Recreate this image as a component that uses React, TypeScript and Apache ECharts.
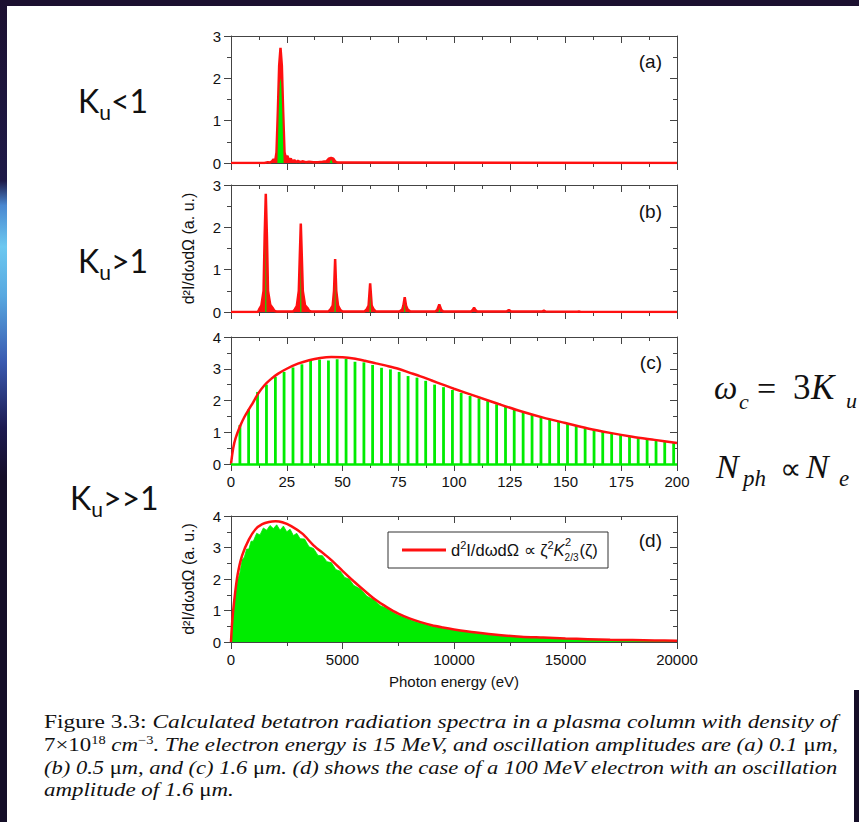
import React, { useEffect, useRef } from "react";
import * as echarts from "echarts";

const RED = "#ff1010";
const GREEN = "#00ec00";
const AXIS = "#444444";
const TXT = "#111111";

// ---------- Panel (a): K_u < 1 ----------
const redA: [number, number][] = [
  [0, 0], [15, 0], [16.5, 0.02], [17.5, 0.01], [18.4, 0.04], [19.1, 0.09], [19.8, 0.04],
  [20.4, 0.25], [21.0, 1.2], [21.6, 2.3], [22.2, 2.72], [22.8, 2.3], [23.4, 1.2], [24.0, 0.25],
  [24.6, 0.12], [25.3, 0.17], [26.0, 0.06], [26.8, 0.1], [27.6, 0.03], [28.4, 0.07], [29.2, 0.02],
  [30, 0.05], [31, 0.02], [32, 0.04], [33.5, 0.02], [35, 0.03], [37, 0.02], [39, 0.02], [41, 0.03],
  [42.8, 0.04], [43.8, 0.1], [44.9, 0.12], [45.9, 0.1], [46.8, 0.03], [48, 0.01], [200, 0],
];
const greenA: [number, number][] = [
  [0, 0], [20.8, 0], [21.4, 1.2], [21.9, 1.9], [22.2, 2.0], [22.5, 1.9], [23.0, 1.2], [23.6, 0],
  [44.2, 0], [44.9, 0.09], [45.6, 0], [200, 0],
];

// ---------- Panel (b): K_u > 1 ----------
const redB: [number, number][] = [
  [0, 0], [12.0, 0], [12.6, 0.06], [13.6, 0.15], [14.6, 0.5], [15.1, 1.8], [15.6, 2.79], [16.1, 1.8],
  [16.6, 0.5], [17.6, 0.17], [18.6, 0.1], [19.4, 0.03], [20.5, 0.01],
  [27.8, 0.01], [28.6, 0.06], [29.5, 0.14], [30.4, 0.5], [30.9, 1.4], [31.3, 2.09], [31.7, 1.4],
  [32.2, 0.5], [33.2, 0.16], [34.2, 0.1], [35.0, 0.03], [36, 0.01],
  [43.6, 0.01], [44.6, 0.06], [45.6, 0.15], [46.2, 0.5], [46.7, 1.25], [47.2, 0.5], [48, 0.15], [49, 0.05], [50, 0.01],
  [59.8, 0.01], [60.8, 0.06], [61.7, 0.15], [62.4, 0.68], [63.1, 0.15], [64, 0.06], [65, 0.01],
  [75.6, 0.01], [76.8, 0.06], [77.3, 0.15], [77.9, 0.35], [78.5, 0.15], [79.2, 0.06], [80.4, 0.01],
  [91.6, 0.01], [92.5, 0.05], [93.4, 0.18], [94.3, 0.05], [95.2, 0.01],
  [107.6, 0.01], [108.3, 0.04], [109, 0.1], [109.7, 0.04], [110.4, 0.01],
  [123.6, 0.01], [124.6, 0.05], [125.6, 0.01],
  [139.5, 0.01], [140.3, 0.03], [141.1, 0.01],
  [155.4, 0.005], [156, 0.015], [156.6, 0.005],
  [200, 0],
];
const greenB: [number, number][] = [
  [0, 0], [15.3, 0], [15.6, 1.75], [15.9, 0], [31.0, 0], [31.3, 1.2], [31.6, 0],
  [46.4, 0], [46.7, 0.7], [47.0, 0], [62.1, 0], [62.4, 0.4], [62.7, 0],
  [77.6, 0], [77.9, 0.2], [78.2, 0], [93.1, 0], [93.4, 0.1], [93.7, 0], [200, 0],
];

// ---------- Panel (c): K_u >> 1, harmonic comb ----------
const harmonicsC = [
  4.0, 7.9, 11.9, 15.9, 19.9, 23.8, 27.8, 31.8, 35.7, 39.7, 43.7, 47.6, 51.6, 55.6, 59.6, 63.5, 67.5,
  71.5, 75.4, 79.4, 83.4, 87.3, 91.3, 95.3, 99.3, 103.2, 107.2, 111.2, 115.1, 119.1, 123.1, 127.0,
  131.0, 135.0, 139.0, 142.9, 146.9, 150.9, 154.8, 158.8, 162.8, 166.7, 170.7, 174.7, 178.7, 182.6,
  186.6, 190.6, 194.5, 198.5,
];
const heightsC = [
  1.23, 1.72, 2.27, 2.5, 2.74, 2.9, 3.04, 3.14, 3.25, 3.29, 3.26, 3.3, 3.31, 3.22, 3.2, 3.12, 3.03,
  2.98, 2.9, 2.77, 2.72, 2.62, 2.5, 2.42, 2.33, 2.24, 2.14, 2.07, 1.98, 1.88, 1.8, 1.71, 1.62, 1.56,
  1.47, 1.41, 1.34, 1.27, 1.2, 1.14, 1.08, 1.03, 0.98, 0.93, 0.88, 0.83, 0.79, 0.75, 0.71, 0.68,
];
const envXC = [0, 1, 2, 4, 6, 8, 10, 12, 15, 18, 21, 25, 30, 35, 40, 45, 50, 55, 60, 65, 70, 75, 80, 85, 90, 95, 100, 110, 120, 130, 140, 150, 160, 170, 180, 190, 200];
const envYC = [0, 0.5, 0.8, 1.18, 1.48, 1.72, 1.95, 2.2, 2.48, 2.68, 2.84, 3.0, 3.16, 3.27, 3.34, 3.37, 3.36, 3.32, 3.25, 3.17, 3.09, 3.0, 2.88, 2.76, 2.63, 2.5, 2.37, 2.13, 1.89, 1.66, 1.46, 1.29, 1.12, 0.98, 0.86, 0.76, 0.66];

// ---------- Panel (d): synchrotron-like ----------
const envXD = [0, 50, 150, 300, 500, 800, 1100, 1400, 1700, 2000, 2300, 2700, 3200, 3700, 4200, 4500, 5000, 5500, 6000, 6500, 7000, 7500, 8000, 8500, 9000, 9500, 10000, 11000, 12000, 13000, 14000, 15000, 16000, 17000, 18000, 19000, 20000];
const envYD = [0, 0.6, 1.35, 2.15, 2.75, 3.25, 3.58, 3.74, 3.81, 3.83, 3.8, 3.68, 3.44, 3.07, 2.78, 2.6, 2.26, 1.93, 1.62, 1.33, 1.1, 0.9, 0.75, 0.63, 0.53, 0.46, 0.4, 0.3, 0.22, 0.17, 0.14, 0.11, 0.09, 0.07, 0.06, 0.05, 0.04];
const greenXD = [0, 100, 200, 300, 400, 500, 600, 700, 800, 900, 1000, 1150, 1300, 1450, 1600, 1750, 1900, 2050, 2200, 2350, 2500, 2650, 2800, 2950, 3100, 3300, 3500, 3700, 3900, 4100, 4300, 4500, 4700, 4900, 5100, 5300, 5500, 5800, 6100, 6400, 6700, 7000, 7400, 7800, 8200, 8600, 9000, 9500, 10000, 11000, 12000, 13000, 14000, 15000, 16000, 17000, 18000, 19000, 20000];
const greenYD = [0, 0.95, 1.5, 1.95, 2.2, 2.6, 2.7, 2.95, 2.95, 3.2, 3.2, 3.45, 3.4, 3.62, 3.55, 3.7, 3.6, 3.72, 3.55, 3.68, 3.5, 3.58, 3.38, 3.45, 3.28, 3.27, 3.02, 2.97, 2.75, 2.74, 2.55, 2.52, 2.3, 2.25, 2.05, 2.0, 1.8, 1.68, 1.45, 1.34, 1.15, 1.06, 0.88, 0.78, 0.66, 0.59, 0.5, 0.44, 0.38, 0.28, 0.21, 0.16, 0.13, 0.1, 0.08, 0.065, 0.05, 0.04, 0.03];

const panelTags = ["(a)", "(b)", "(c)", "(d)"];
const yTitle = "d²I/dωdΩ (a. u.)";
const xTitle = "Photon energy (eV)";

const captionLines: [string, string][][] = [
  [["Figure 3.3:", "up"], [" Calculated betatron radiation spectra in a plasma column with density of", "it"]],
  [["7×10", "up"], ["18", "sup"], [" ", "up"], ["cm", "it"], ["−3", "sup"], [". The electron energy is 15 MeV, and oscillation amplitudes are (a) 0.1 ", "it"], ["μ", "up"], ["m,", "it"]],
  [["(b) 0.5 ", "it"], ["μ", "up"], ["m, and (c) 1.6 ", "it"], ["μ", "up"], ["m. (d) shows the case of a 100 MeV electron with an oscillation", "it"]],
  [["amplitude of 1.6 ", "it"], ["μ", "up"], ["m.", "it"]],
];

const zip = (xs: number[], ys: number[]) => xs.map((x, i) => [x, ys[i]]);

let ctx: CanvasRenderingContext2D | null = null;
function measure(text: string, font: string) {
  if (!ctx) ctx = document.createElement("canvas").getContext("2d");
  if (!ctx) return text.length * 8;
  ctx.font = font;
  return ctx.measureText(text).width;
}

const CAP_SIZE = 19;
const CAP_SUP = 12;
const capFont = (s: string) =>
  s === "it" ? `italic ${CAP_SIZE}px "Liberation Serif"` : s === "sup" ? `${CAP_SUP}px "Liberation Serif"` : `${CAP_SIZE}px "Liberation Serif"`;

function buildOption() {
  const grids = [36, 185, 337, 516].map((top, i) => ({ left: 231, top, width: 446, height: i === 3 ? 126 : 127 }));

  const lbl = { fontSize: 15, color: TXT, fontFamily: "Liberation Sans" };
  const xAxes: any[] = [];
  const yAxes: any[] = [];
  grids.forEach((_, gi) => {
    const isD = gi === 3;
    const common = {
      type: "value", gridIndex: gi, min: 0, max: isD ? 20000 : 200, interval: isD ? 5000 : 25,
      splitLine: { show: false }, minorSplitLine: { show: false },
      axisLine: { show: true, onZero: false, lineStyle: { color: AXIS, width: 1 } },
      minorTick: { show: true, splitNumber: 2, length: 4, lineStyle: { color: AXIS } },
    };
    xAxes.push({
      ...common, position: "bottom",
      axisTick: { show: true, inside: false, length: 7, lineStyle: { color: AXIS } },
      axisLabel: { show: gi >= 2, margin: 10, ...lbl, formatter: (v: number) => String(v) },
      name: isD ? xTitle : "", nameLocation: "middle", nameGap: 32,
      nameTextStyle: { fontSize: 15, color: TXT, fontFamily: "Liberation Sans" },
    });
    xAxes.push({
      ...common, position: "top",
      axisTick: { show: true, inside: true, length: 7, lineStyle: { color: AXIS } },
      axisLabel: { show: false },
    });
    const ymax = gi < 2 ? 3 : 4;
    const ycommon = {
      type: "value", gridIndex: gi, min: 0, max: ymax, interval: 1,
      splitLine: { show: false }, minorSplitLine: { show: false },
      axisLine: { show: true, onZero: false, lineStyle: { color: AXIS, width: 1 } },
      minorTick: { show: true, splitNumber: 2, length: 4, lineStyle: { color: AXIS } },
    };
    yAxes.push({
      ...ycommon, position: "left",
      axisTick: { show: true, inside: false, length: 7, lineStyle: { color: AXIS } },
      axisLabel: { show: true, margin: 10, ...lbl },
      name: gi === 1 || gi === 3 ? yTitle : "", nameLocation: "middle", nameRotate: 90, nameGap: 35,
      nameTextStyle: { fontSize: 16, color: TXT, fontFamily: "Liberation Sans" },
    });
    yAxes.push({
      ...ycommon, position: "right",
      axisTick: { show: true, inside: true, length: 7, lineStyle: { color: AXIS } },
      axisLabel: { show: false },
    });
  });

  const series: any[] = [
    { type: "line", xAxisIndex: 0, yAxisIndex: 0, data: redA, symbol: "none", lineStyle: { color: RED, width: 2.5 }, areaStyle: { color: RED, opacity: 1 }, z: 2 },
    { type: "line", xAxisIndex: 0, yAxisIndex: 0, data: greenA, symbol: "none", lineStyle: { width: 0, color: GREEN }, areaStyle: { color: GREEN, opacity: 1 }, z: 3 },
    { type: "line", xAxisIndex: 2, yAxisIndex: 2, data: redB, symbol: "none", lineStyle: { color: RED, width: 2.5 }, areaStyle: { color: RED, opacity: 1 }, z: 2 },
    { type: "line", xAxisIndex: 2, yAxisIndex: 2, data: greenB, symbol: "none", lineStyle: { width: 0, color: GREEN }, areaStyle: { color: GREEN, opacity: 1 }, z: 3 },
    {
      type: "bar", xAxisIndex: 4, yAxisIndex: 4, data: zip(harmonicsC, heightsC), barWidth: 2.8,
      itemStyle: { color: GREEN }, z: 2,
      markLine: { silent: true, symbol: "none", label: { show: false }, lineStyle: { color: GREEN, width: 2.5, type: "solid" }, data: [{ yAxis: 0 }] },
    },
    { type: "line", xAxisIndex: 4, yAxisIndex: 4, data: zip(envXC, envYC), symbol: "none", smooth: 0.3, lineStyle: { color: RED, width: 2.5 }, z: 4 },
    { type: "line", xAxisIndex: 6, yAxisIndex: 6, data: zip(greenXD, greenYD), symbol: "none", lineStyle: { color: GREEN, width: 0.8 }, areaStyle: { color: GREEN, opacity: 1 }, z: 2 },
    { type: "line", xAxisIndex: 6, yAxisIndex: 6, data: zip(envXD, envYD), symbol: "none", smooth: 0.3, lineStyle: { color: RED, width: 2.5 }, z: 3 },
  ];

  const elements: any[] = [];
  // slide frame
  elements.push({ type: "rect", shape: { x: 0, y: 0, width: 859, height: 6 }, style: { fill: "#1c1030" }, z: 100 });
  elements.push({
    type: "rect", shape: { x: 0, y: 0, width: 7, height: 822 }, z: 100,
    style: {
      fill: new echarts.graphic.LinearGradient(0, 0, 0, 1, [
        { offset: 0, color: "#1c1030" }, { offset: 0.22, color: "#1e1a48" }, { offset: 0.25, color: "#4a88d0" },
        { offset: 0.3, color: "#6cc8f0" }, { offset: 0.36, color: "#58a8e0" }, { offset: 0.44, color: "#3a5ab0" },
        { offset: 0.52, color: "#1c1a50" }, { offset: 0.58, color: "#150e28" }, { offset: 1, color: "#150e28" },
      ]),
    },
  });
  elements.push({ type: "rect", shape: { x: 854, y: 690, width: 5, height: 132 }, style: { fill: "#150e28" }, z: 100 });

  // panel tags
  const tagY = [61, 211, 362, 540];
  panelTags.forEach((t, i) =>
    elements.push({ type: "text", x: 662, y: tagY[i], z: 50, style: { text: t, fontSize: 19, fontFamily: "Liberation Sans", fill: TXT, align: "right", verticalAlign: "middle" } })
  );

  // legend box in (d)
  elements.push({ type: "rect", shape: { x: 388, y: 532, width: 220, height: 36 }, style: { fill: "#ffffff", stroke: "#333", lineWidth: 1 }, z: 50 });
  elements.push({ type: "line", shape: { x1: 402, y1: 550, x2: 446, y2: 550 }, style: { stroke: RED, lineWidth: 3 }, z: 51 });
  const LF = 16.5;
  const SF = 11;
  const legSegs: [string, string][] = [["d", "n"], ["2", "s"], ["I/dωdΩ ∝ ζ", "n"], ["2", "s"], ["K", "i"]];
  const lfont = (s: string) => (s === "s" ? `${SF}px "Liberation Sans"` : s === "i" ? `italic ${LF}px "Liberation Sans"` : `${LF}px "Liberation Sans"`);
  const legW = legSegs.reduce((a, [t, s]) => a + measure(t, lfont(s)), 0);
  const lx = 451;
  elements.push({
    type: "text", x: lx, y: 550, z: 51,
    style: {
      text: legSegs.map(([t, s]) => `{${s}|${t}}`).join(""), verticalAlign: "middle", fill: TXT,
      rich: {
        n: { fontSize: LF, fontFamily: "Liberation Sans", lineHeight: 21, fill: TXT },
        i: { fontSize: LF, fontFamily: "Liberation Sans", fontStyle: "italic", lineHeight: 21, fill: TXT },
        s: { fontSize: SF, fontFamily: "Liberation Sans", lineHeight: 11, verticalAlign: "top", fill: TXT },
      },
    },
  });
  elements.push({ type: "text", x: lx + legW + 0.5, y: 542, z: 51, style: { text: "2", fontSize: SF, fontFamily: "Liberation Sans", fill: TXT, verticalAlign: "middle" } });
  elements.push({ type: "text", x: lx + legW, y: 557, z: 51, style: { text: "2/3", fontSize: SF - 1, fontFamily: "Liberation Sans", fill: TXT, verticalAlign: "middle" } });
  const w23 = measure("2/3", `${SF - 1}px "Liberation Sans"`);
  elements.push({ type: "text", x: lx + legW + w23 + 1, y: 550, z: 51, style: { text: "(ζ)", fontSize: LF, fontFamily: "Liberation Sans", fill: TXT, verticalAlign: "middle" } });

  // K_u labels
  const kuLabels: [number, number, string][] = [[78, 100, "<1"], [78, 260, ">1"], [70, 497, ">>1"]];
  kuLabels.forEach(([x, y, rest]) => {
    const kw = measure("K", `32px Lato`);
    const uw = measure("u", `21px Lato`);
    const base = { fontFamily: "Lato", fill: "#111", verticalAlign: "middle" };
    elements.push({ type: "text", x, y, z: 50, style: { ...base, text: "K", fontSize: 32 } });
    elements.push({ type: "text", x: x + kw, y: y + 11, z: 50, style: { ...base, text: "u", fontSize: 21 } });
    elements.push({ type: "text", x: x + kw + uw, y, z: 50, style: { ...base, text: rest, fontSize: 32 } });
  });

  // formulas on the right (cut by the page edge as in the slide)
  const mf = { fontFamily: "Liberation Serif", fill: "#111", verticalAlign: "middle" };
  elements.push({ type: "text", x: 714, y: 388, z: 50, style: { ...mf, text: "ω", fontSize: 33, fontStyle: "italic" } });
  elements.push({ type: "text", x: 739, y: 401, z: 50, style: { ...mf, text: "c", fontSize: 22, fontStyle: "italic" } });
  elements.push({ type: "text", x: 757, y: 388, z: 50, style: { ...mf, text: "=", fontSize: 34 } });
  elements.push({ type: "text", x: 793, y: 387, z: 50, style: { ...mf, text: "3", fontSize: 35 } });
  elements.push({ type: "text", x: 811, y: 387, z: 50, style: { ...mf, text: "K", fontSize: 35, fontStyle: "italic" } });
  elements.push({ type: "text", x: 846, y: 400, z: 50, style: { ...mf, text: "u", fontSize: 22, fontStyle: "italic" } });
  elements.push({ type: "text", x: 716, y: 466, z: 50, style: { ...mf, text: "N", fontSize: 34, fontStyle: "italic" } });
  elements.push({ type: "text", x: 743, y: 478, z: 50, style: { ...mf, text: "ph", fontSize: 23, fontStyle: "italic" } });
  elements.push({ type: "text", x: 780, y: 468, z: 50, style: { ...mf, text: "∝", fontSize: 30 } });
  elements.push({ type: "text", x: 806, y: 466, z: 50, style: { ...mf, text: "N", fontSize: 34, fontStyle: "italic" } });
  elements.push({ type: "text", x: 839, y: 478, z: 50, style: { ...mf, text: "e", fontSize: 23, fontStyle: "italic" } });

  // caption
  const capY = [722, 745, 768, 790];
  const widths = captionLines.map((segs) => segs.reduce((a, [t, s]) => a + measure(t, capFont(s)), 0));
  const scales = widths.map((w) => 794 / w);
  const avgScale = (scales[0] + scales[1] + scales[2]) / 3;
  captionLines.forEach((segs, i) => {
    elements.push({
      type: "text", x: 44, y: capY[i], z: 50, scaleX: i < 3 ? scales[i] : avgScale,
      style: {
        text: segs.map(([t, s]) => `{${s}|${t}}`).join(""), verticalAlign: "middle", fill: "#111",
        rich: {
          up: { fontFamily: "Liberation Serif", fontSize: CAP_SIZE, lineHeight: 22, fill: "#111" },
          it: { fontFamily: "Liberation Serif", fontSize: CAP_SIZE, fontStyle: "italic", lineHeight: 22, fill: "#111" },
          sup: { fontFamily: "Liberation Serif", fontSize: CAP_SUP, lineHeight: 12, verticalAlign: "top", fill: "#111" },
        },
      },
    });
  });

  return {
    animation: false,
    backgroundColor: "#ffffff",
    textStyle: { fontFamily: "Liberation Sans" },
    grid: grids,
    xAxis: xAxes,
    yAxis: yAxes,
    series,
    graphic: { elements },
  };
}

export default function App() {
  const ref = useRef<HTMLDivElement>(null);
  useEffect(() => {
    if (!ref.current) return;
    const chart = echarts.init(ref.current, undefined, { renderer: "svg" });
    chart.setOption(buildOption() as any);
    return () => chart.dispose();
  }, []);
  return <div ref={ref} style={{ position: "absolute", left: 0, top: 0, width: 859, height: 822 }} />;
}
